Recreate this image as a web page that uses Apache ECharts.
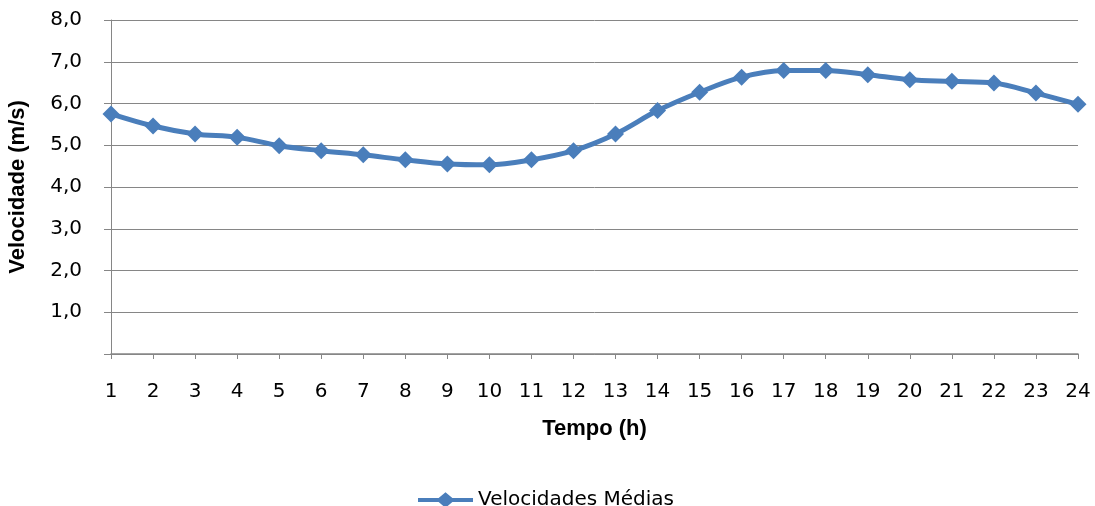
<!DOCTYPE html>
<html>
<head>
<meta charset="utf-8">
<script src="https://cdn.jsdelivr.net/npm/echarts@6/dist/echarts.min.js"></script>
<style>html,body{margin:0;padding:0;background:#fff}#c{width:1095px;height:506px}</style>
</head>
<body>
<div id="c"></div>
<script>
const hours = ['1','2','3','4','5','6','7','8','9','10','11','12','13','14','15','16','17','18','19','20','21','22','23','24'];
const velocidades = [5.75,5.46,5.27,5.19,4.99,4.87,4.77,4.65,4.55,4.53,4.65,4.87,5.27,5.83,6.27,6.63,6.79,6.79,6.69,6.57,6.53,6.49,6.25,5.98];
const seriesName = 'Velocidades Médias';
const xTitle = 'Tempo (h)';
const yTitle = 'Velocidade (m/s)';

const chart = echarts.init(document.getElementById('c'));
const lab = {fontFamily: '"DejaVu Sans", sans-serif', fontSize: 20, color: '#000'};
const titleStyle = {fontFamily: '"Liberation Sans", Arial, sans-serif', fontWeight: 'bold', fontSize: 22, color: '#000'};
chart.setOption({
  animation: false,
  grid: {left: 111, right: 17, top: 20, bottom: 152, outerBoundsMode: 'none', containLabel: false},
  legend: {
    top: 485, left: 413,
    itemWidth: 55, itemHeight: 16, itemGap: 4,
    textStyle: {fontFamily: '"DejaVu Sans", sans-serif', fontSize: 20, color: '#000'},
    data: [{name: seriesName, icon: 'path://M0,6 L21,6 L28,0 L35,6 L56,6 L56,10 L35,10 L28,16 L21,10 L0,10 Z'}]
  },
  xAxis: {
    type: 'category', data: hours, boundaryGap: false,
    name: xTitle, nameLocation: 'middle', nameGap: 64,
    nameTextStyle: titleStyle,
    axisLine: {lineStyle: {color: '#868686', width: 1.5}},
    axisTick: {lineStyle: {color: '#868686'}, length: 5},
    axisLabel: Object.assign({margin: 28, interval: 0}, lab),
    splitLine: {show: false}
  },
  yAxis: {
    type: 'value', min: 0, max: 8, interval: 1,
    name: yTitle, nameLocation: 'middle', nameGap: 82, nameRotate: 90,
    nameTextStyle: titleStyle,
    axisLine: {show: true, lineStyle: {color: '#868686'}},
    axisTick: {show: true, length: 7, lineStyle: {color: '#868686'}},
    axisLabel: Object.assign({margin: 29, formatter: v => v === 0 ? '' : v.toFixed(1).replace('.', ',')}, lab),
    splitLine: {lineStyle: {color: '#868686', width: 1}}
  },
  series: [{
    name: seriesName, type: 'line', data: velocidades, smooth: 0.35,
    symbol: 'diamond', symbolSize: 17,
    lineStyle: {color: '#4A7EBB', width: 5},
    itemStyle: {color: '#4A7EBB'}
  }]
});
</script>
</body>
</html>
